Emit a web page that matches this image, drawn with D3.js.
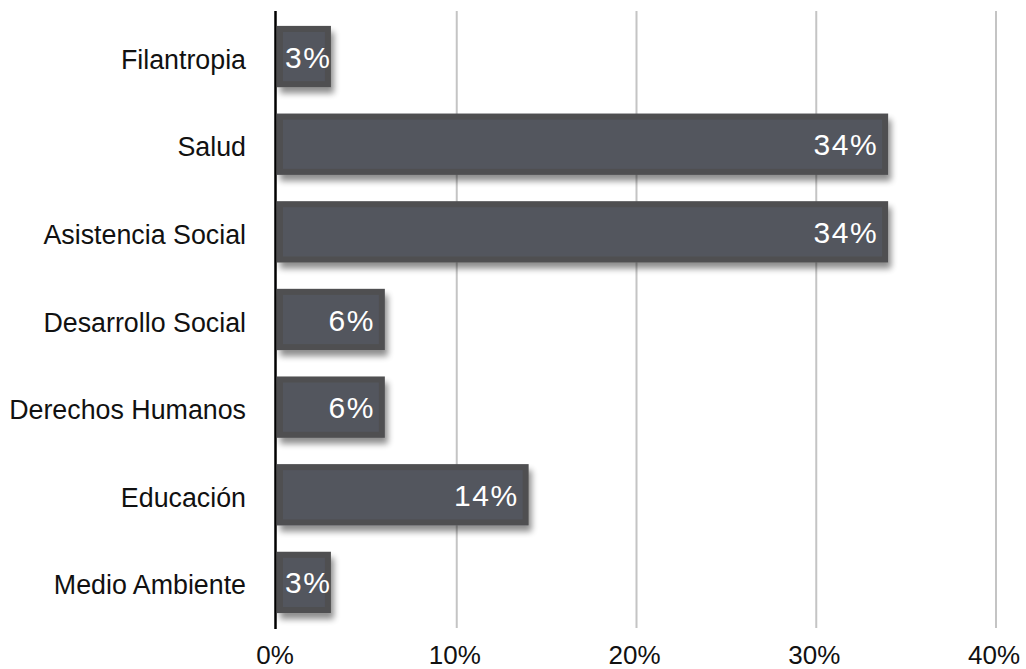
<!DOCTYPE html>
<html>
<head>
<meta charset="utf-8">
<script src="https://cdn.jsdelivr.net/npm/d3@7"></script>
<style>
    body { margin: 0; background: #fff; }
    svg { display: block; font-family: "Liberation Sans", Helvetica, Arial, sans-serif; }
    .cat-label { font-size: 26.8px; fill: #111; }
    .tick-label { font-size: 26px; fill: #111; }
    .val-label { font-size: 30px; fill: #fff; letter-spacing: 1.5px; }
    .grid { stroke: #c4c4c4; stroke-width: 2px; }
</style>
</head>
<body>
<div id="chart"></div>
<script>

    var categories = ["Filantropia", "Salud", "Asistencia Social", "Desarrollo Social", "Derechos Humanos", "Educación", "Medio Ambiente"];
    var values = [3, 34, 34, 6, 6, 14, 3];
    var tickValues = [0, 10, 20, 30, 40];
    var tickLabels = ["0%", "10%", "20%", "30%", "40%"];

    // note: "top" is taken by window.top, so plotTop / plotBottom
    var width = 1026,
        height = 669,
        plotLeft = 277,
        plotRight = 996,
        plotTop = 11,
        plotBottom = 628;

    var svg = d3.select("#chart").append("svg")
        .attr("width", width)
        .attr("height", height);

    var x = d3.scaleLinear().domain([0, 40]).range([plotLeft, plotRight]);
    var y = d3.scaleBand().domain(categories).range([plotTop, plotBottom])
        .paddingInner(0.3)
        .paddingOuter(0.17);

    // drop shadow under bars
    var defs = svg.append("defs");
    var f = defs.append("filter").attr("id", "shadow")
        .attr("x", "-10%").attr("y", "-10%")
        .attr("width", "130%").attr("height", "140%");
    f.append("feGaussianBlur").attr("in", "SourceAlpha").attr("stdDeviation", 3);
    f.append("feOffset").attr("dx", 3).attr("dy", 6).attr("result", "off");
    f.append("feComponentTransfer").append("feFuncA").attr("type", "linear").attr("slope", 0.45);
    var m = f.append("feMerge");
    m.append("feMergeNode");
    m.append("feMergeNode").attr("in", "SourceGraphic");

    // vertical grid lines
    svg.selectAll("line.grid")
        .data(tickValues.slice(1))
        .enter().append("line")
        .attr("class", "grid")
        .attr("x1", function(d) { return x(d); })
        .attr("x2", function(d) { return x(d); })
        .attr("y1", plotTop)
        .attr("y2", plotBottom);

    // tick labels
    svg.selectAll("text.tick-label")
        .data(tickValues)
        .enter().append("text")
        .attr("class", "tick-label")
        .attr("text-anchor", "middle")
        .attr("x", function(d) { return x(d) - 2; })
        .attr("y", 664)
        .text(function(d, i) { return tickLabels[i]; });

    // bars
    var bars = svg.selectAll("g.bar")
        .data(categories)
        .enter().append("g")
        .attr("class", "bar");

    bars.append("rect")
        .attr("x", x(0))
        .attr("y", function(d) { return y(d); })
        .attr("width", function(d, i) { return x(values[i]) - x(0); })
        .attr("height", y.bandwidth())
        .attr("fill", "#505051")
        .attr("filter", "url(#shadow)");

    bars.append("rect")
        .attr("x", x(0) + 6)
        .attr("y", function(d) { return y(d) + 6; })
        .attr("width", function(d, i) { return Math.max(0, x(values[i]) - x(0) - 12); })
        .attr("height", y.bandwidth() - 12)
        .attr("fill", "#53565e");

    // value labels
    bars.append("text")
        .attr("class", "val-label")
        .text(function(d, i) { return values[i] + "%"; })
        .attr("y", function(d) { return y(d) + y.bandwidth() / 2 + 11; })
        .attr("x", function(d, i) {
            var w = this.getComputedTextLength();
            var xr = x(values[i]) - 10 - w;
            return Math.max(x(0) + 8, xr);
        });

    // category labels
    svg.selectAll("text.cat-label")
        .data(categories)
        .enter().append("text")
        .attr("class", "cat-label")
        .attr("text-anchor", "end")
        .attr("x", 246)
        .attr("y", function(d) { return y(d) + y.bandwidth() / 2 + 12; })
        .text(function(d) { return d; });

    // axis line
    svg.append("line")
        .attr("x1", 275.5).attr("x2", 275.5)
        .attr("y1", plotTop).attr("y2", plotBottom + 1)
        .attr("stroke", "#000")
        .attr("stroke-width", 2.5);

</script>
</body>
</html>
